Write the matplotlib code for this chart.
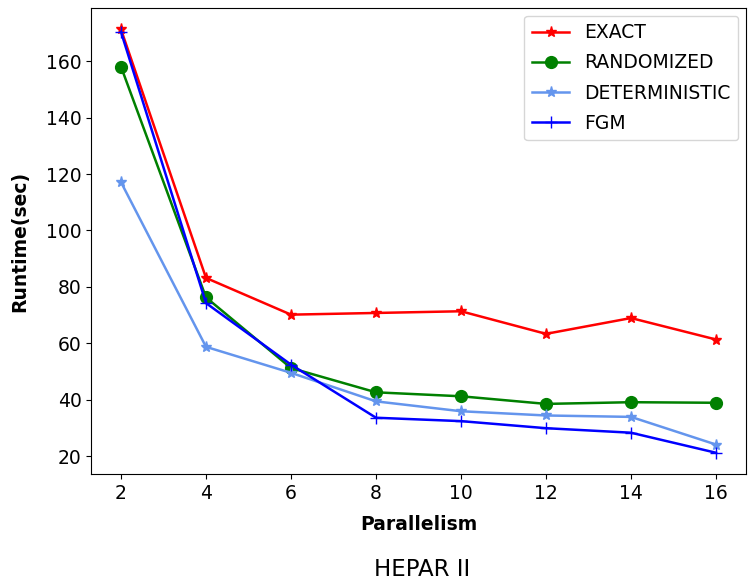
import matplotlib
matplotlib.use("Agg")
import matplotlib.pyplot as plt

parallelism = [2, 4, 6, 8, 10, 12, 14, 16]
exact = [171.2, 83.2, 70.2, 70.8, 71.4, 63.4, 69.0, 61.4]
randomized = [158.0, 76.3, 51.3, 42.7, 41.3, 38.6, 39.2, 39.0]
deterministic = [117.1, 58.8, 49.6, 39.5, 36.0, 34.5, 34.0, 24.2]
fgm = [170.3, 74.3, 52.5, 33.7, 32.5, 30.0, 28.4, 21.3]

fig = plt.figure(figsize=(7.48, 5.88), dpi=100)
ax = fig.add_axes([0.122, 0.194, 0.875, 0.792])

ax.plot(parallelism, exact, color="red", marker="*", markersize=8, linewidth=1.8, label="EXACT")
ax.plot(parallelism, randomized, color="green", marker="o", markersize=8.5, linewidth=1.8, label="RANDOMIZED")
ax.plot(parallelism, deterministic, color="cornflowerblue", marker="*", markersize=8, linewidth=1.8, label="DETERMINISTIC")
ax.plot(parallelism, fgm, color="blue", marker="+", markersize=9, linewidth=1.8, label="FGM")

ax.set_xticks(parallelism)
ax.set_xlabel("Parallelism", fontweight="bold", fontsize=13.5, labelpad=9)
ax.set_ylabel("Runtime(sec)", fontweight="bold", fontsize=13.5, labelpad=12)
ax.tick_params(labelsize=13.5)
ax.legend(loc="upper right", fontsize=13.5, borderaxespad=0.4, labelspacing=0.6)

fig.text(0.565, 0.032, "HEPAR II", ha="center", va="center", fontsize=16.5)

fig.savefig("out.png", dpi=100)
